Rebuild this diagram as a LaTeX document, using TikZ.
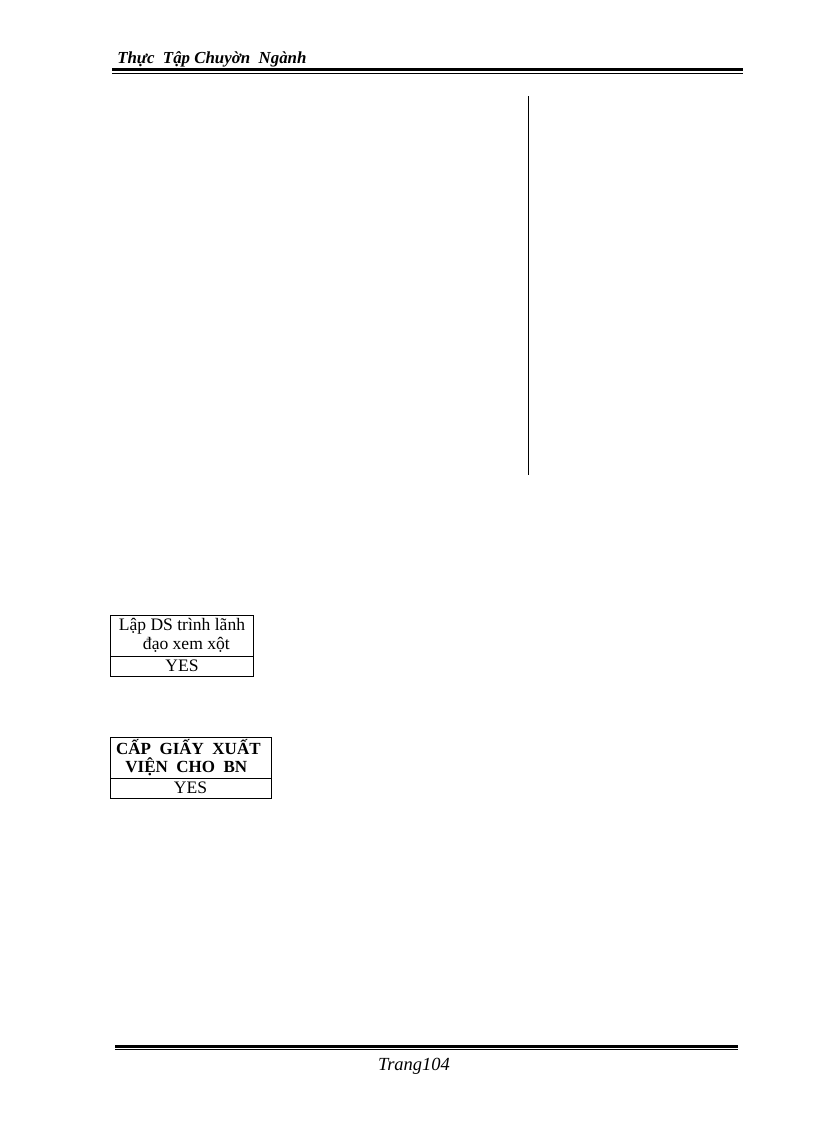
\documentclass[tikz,border=0pt]{standalone}
\usepackage{fontspec}
\setmainfont{Liberation Serif}
\usetikzlibrary{positioning}
\tikzset{cell/.style = {
  rectangle, draw=black, line width=0.7pt,
  inner sep=0pt, outer sep=0pt,
  text centered, align=center,
  font=\fontsize{12.8}{13.5}\selectfont
  }}
\tikzset{upper/.style = {
  cell,
  minimum height=29.9pt
  }}
\tikzset{lower/.style = {
  cell,
  minimum height=14.6pt
  }}
\tikzset{rule/.style = {
  line width=#1, draw=black
  }}
\begin{document}
\begin{tikzpicture}[x=0.7296pt, y=-0.7296pt]
\useasboundingbox (0,0) rectangle (816,1123);

% HEADER
\node (head) [anchor=base west, inner sep=0pt, font=\fontsize{12.3}{15}\selectfont\bfseries\itshape] at (117,63) {Thực\ \ Tập\ Chuyờn\ \ Ngành};
\draw [rule=2.2pt] (112,69.5) -- (743,69.5);
\draw [rule=0.7pt] (112,73.5) -- (743,73.5);

% separator
\coordinate (sepT) at (528,96);
\coordinate (sepB) at (528,475);
\draw [rule=0.7pt] (sepT) -- (sepB);

% NODES
\node (lap) [upper, minimum width=105pt, anchor=north west] at (110,615) {Lập DS trình lãnh\ \\\ \ đạo xem xột};
\node (lapyes) [lower, minimum width=105pt, below=0pt of lap] {YES};

\node (cap) [upper, minimum width=117.5pt, anchor=north west, font=\fontsize{12.4}{13.5}\selectfont\bfseries] at (110,737) {CẤP\ \ GIẤY\ \ XUẤT\ \ \\VIỆN\ \ CHO\ \ BN\ \ \ };
\node (capyes) [lower, minimum width=117.5pt, below=0pt of cap] {YES};

% FOOTER
\draw [rule=2.2pt] (115,1046) -- (738,1046);
\draw [rule=0.7pt] (115,1049.5) -- (738,1049.5);
\node (page) [anchor=base, inner sep=0pt, font=\fontsize{13.5}{15}\selectfont\itshape] at (414,1070) {Trang104};
\end{tikzpicture}
\end{document}
